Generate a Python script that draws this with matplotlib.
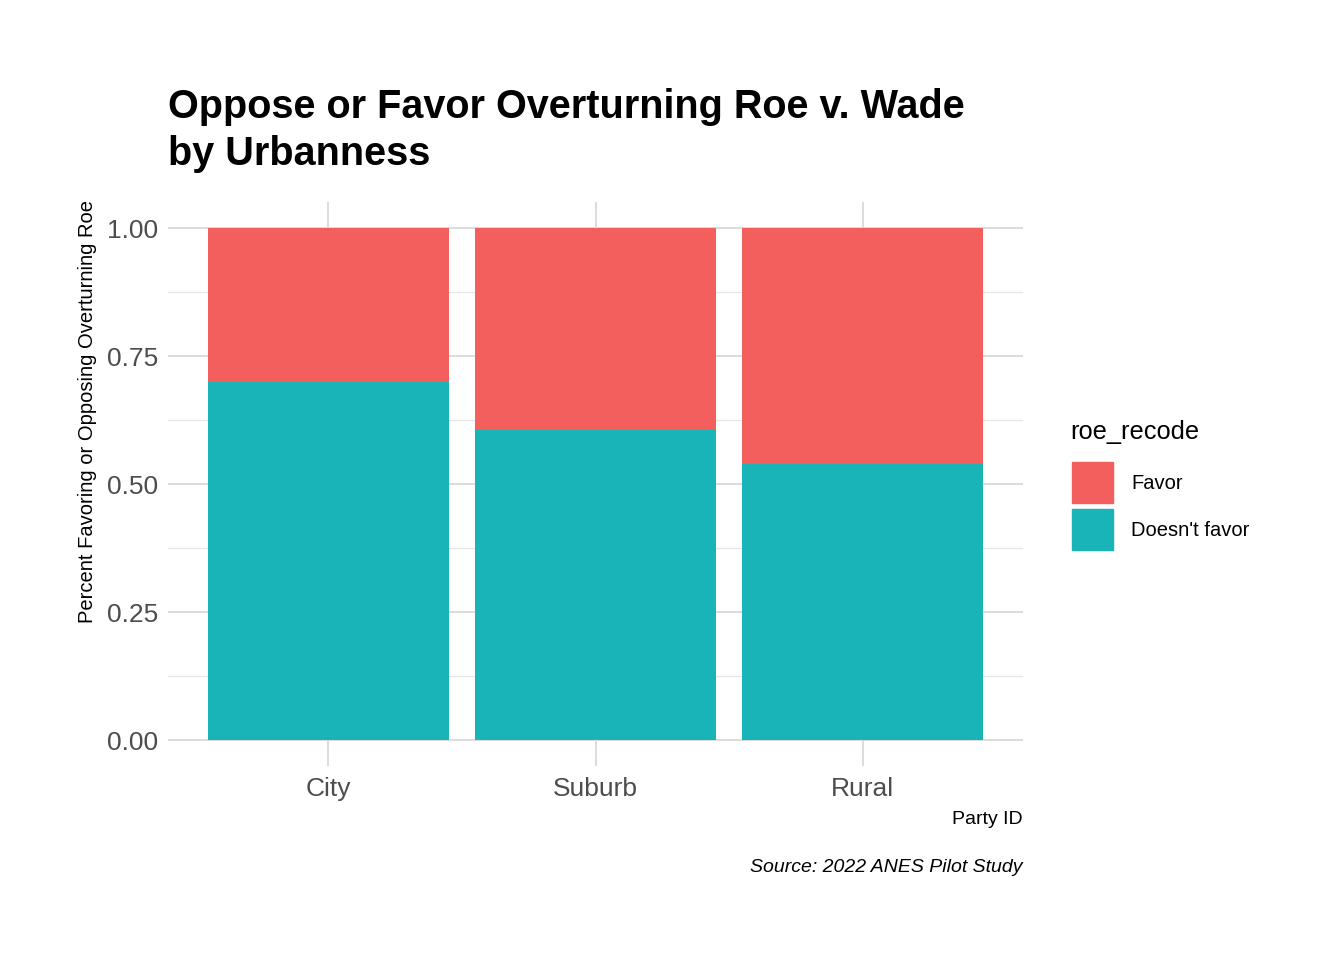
import matplotlib.pyplot as plt
import matplotlib.patches as mpatches
import numpy as np

# data
categories = ["City", "Suburb", "Rural"]
doesnt_favor = [0.699, 0.605, 0.539]
favor = [1 - v for v in doesnt_favor]
legend_labels = ["Favor", "Doesn't favor"]
y_ticks = [0.00, 0.25, 0.50, 0.75, 1.00]
title_lines = ["Oppose or Favor Overturning Roe v. Wade", "by Urbanness"]

RED = "#F35F5C"
TEAL = "#19B4B8"

plt.rcParams['font.family'] = ['Liberation Sans Narrow', 'Liberation Sans', 'DejaVu Sans']

fig = plt.figure(figsize=(13.44, 9.6), dpi=100)
W, H = 1344, 960
left, right, top, bottom = 168, 1023, 202.4, 765.6
ax = fig.add_axes([left / W, 1 - bottom / H, (right - left) / W, (bottom - top) / H])

x = np.arange(1, len(categories) + 1)
ax.bar(x, doesnt_favor, width=0.9, color=TEAL, zorder=2)
ax.bar(x, favor, width=0.9, bottom=doesnt_favor, color=RED, zorder=2)

ax.set_xlim(0.4, 3.6)
ax.set_ylim(-0.05, 1.05)
ax.set_xticks(x)
ax.set_xticklabels(categories)
ax.set_yticks(y_ticks)
ax.set_yticklabels([f"{t:.2f}" for t in y_ticks])
ax.set_yticks([0.125, 0.375, 0.625, 0.875], minor=True)

ax.grid(True, which='major', color='#D9D9D9', linewidth=1.3, zorder=0)
ax.grid(True, which='minor', axis='y', color='#E6E6E6', linewidth=0.9, zorder=0)
for s in ax.spines.values():
    s.set_visible(False)
ax.tick_params(axis='both', which='both', length=0, labelsize=19, labelcolor='#4D4D4D')
ax.tick_params(axis='x', pad=8)
ax.tick_params(axis='y', pad=7)

# title, one line at a time
for i, line in enumerate(title_lines):
    fig.text(left / W, 1 - (118 + 47 * i) / H, line, fontsize=28.5,
             fontweight='bold', ha='left', va='baseline')

fig.text(88 / W, 1 - 200 / H, "Percent Favoring or Opposing Overturning Roe",
         rotation=90, fontsize=14.5, ha='center', va='top')
fig.text(right / W, 1 - 819 / H, "Party ID", fontsize=14, ha='right', va='center')
fig.text(right / W, 1 - 868 / H, "Source: 2022 ANES Pilot Study", fontsize=14,
         ha='right', va='center', style='italic')

# legend
fig.text(1070 / W, 1 - 432 / H, "roe_recode", fontsize=18.3, ha='left', va='center')
for i, (lab, col) in enumerate(zip(legend_labels, [RED, TEAL])):
    y0 = 462 + 47 * i
    fig.patches.append(mpatches.Rectangle((1072 / W, 1 - (y0 + 41) / H), 41 / W, 41 / H,
                                          color=col, transform=fig.transFigure))
    fig.text(1131 / W, 1 - (y0 + 21) / H, lab, fontsize=14.5, ha='left', va='center')

fig.savefig("out.png", dpi=100)
